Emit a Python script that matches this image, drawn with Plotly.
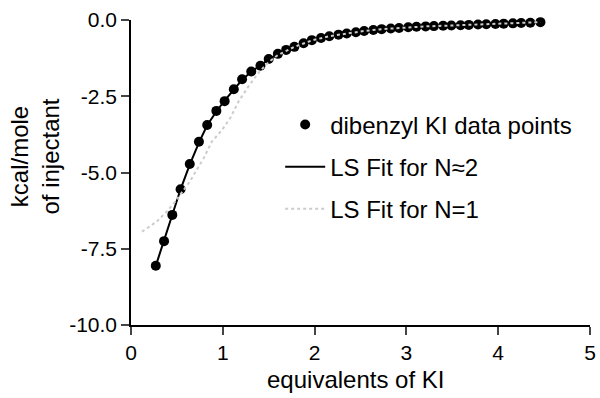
import plotly.graph_objects as go

# data points (equivalents of KI, kcal/mole of injectant)
eq_ki = [0.27, 0.36, 0.45, 0.54, 0.64, 0.74, 0.83, 0.93, 1.02, 1.12, 1.21, 1.31, 1.41, 1.50,
         1.60, 1.69, 1.78, 1.88, 1.97, 2.07, 2.16, 2.26, 2.35, 2.45, 2.54, 2.64, 2.73, 2.83,
         2.92, 3.02, 3.11, 3.21, 3.30, 3.40, 3.49, 3.59, 3.68, 3.78, 3.87, 3.97, 4.06, 4.16,
         4.25, 4.35, 4.46]
heat = [-8.06, -7.25, -6.39, -5.55, -4.72, -3.99, -3.44, -2.98, -2.66, -2.27, -1.94, -1.69,
        -1.50, -1.28, -1.11, -0.98, -0.88, -0.76, -0.66, -0.59, -0.53, -0.48, -0.44, -0.40,
        -0.36, -0.33, -0.30, -0.28, -0.26, -0.24, -0.22, -0.21, -0.20, -0.19, -0.18, -0.17,
        -0.16, -0.15, -0.14, -0.13, -0.12, -0.11, -0.10, -0.09, -0.07]

# LS fit N~2
fit2_x = [0.27, 0.36, 0.45, 0.54, 0.64, 0.74, 0.83, 0.93, 1.02, 1.12, 1.21, 1.31, 1.41, 1.50,
          1.60, 1.69, 1.78, 1.97, 2.16, 2.35, 2.54, 2.73, 2.92, 3.21, 3.49, 3.78, 4.06, 4.46]
fit2_y = [-8.06, -7.24, -6.40, -5.55, -4.74, -4.02, -3.45, -3.00, -2.64, -2.28, -1.96, -1.70,
          -1.49, -1.29, -1.12, -0.99, -0.88, -0.67, -0.53, -0.44, -0.36, -0.30, -0.26, -0.21,
          -0.18, -0.15, -0.12, -0.07]

# LS fit N=1
fit1_x = [0.12, 0.28, 0.39, 0.48, 0.64, 0.79, 0.88, 0.99, 1.08, 1.17, 1.29, 1.40, 1.50,
          1.60, 1.78, 1.97, 2.16, 2.35, 2.54, 2.73, 2.92, 3.21, 3.49, 3.78, 4.06, 4.46]
fit1_y = [-6.94, -6.61, -6.28, -5.96, -5.30, -4.54, -3.99, -3.61, -3.22, -2.68, -2.13, -1.69,
          -1.38, -1.15, -0.88, -0.67, -0.53, -0.44, -0.36, -0.30, -0.26, -0.21, -0.18, -0.15,
          -0.12, -0.07]

names = ["dibenzyl KI data points", "LS Fit for N\u22482", "LS Fit for N=1"]
y_ticks = [-10, -7.5, -5, -2.5, 0]
y_ticktext = ["-10.0", "-7.5", "-5.0", "-2.5", "0.0"]
x_ticks = [0, 1, 2, 3, 4, 5]

FONT = "Arial, Liberation Sans, Helvetica, sans-serif"

fig = go.Figure()
fig.add_trace(go.Scatter(x=fit2_x, y=fit2_y, mode="lines", name=names[1],
                         line=dict(color="black", width=2), legendrank=2,
                         legendgroup="b", cliponaxis=False))
fig.add_trace(go.Scatter(x=eq_ki, y=heat, mode="markers", name=names[0],
                         marker=dict(color="black", size=10), legendrank=1,
                         legendgroup="a", cliponaxis=False))
fig.add_trace(go.Scatter(x=fit1_x, y=fit1_y, mode="lines", name=names[2],
                         line=dict(color="#cccccc", width=2, dash="dot"), legendrank=3,
                         legendgroup="c", cliponaxis=False))

fig.update_layout(
    width=600, height=398,
    margin=dict(l=131, r=10, t=20, b=73),
    paper_bgcolor="white", plot_bgcolor="white",
    font=dict(family=FONT, color="black"),
    showlegend=True,
    legend=dict(x=0.325, y=0.73, xanchor="left", yanchor="top",
                font=dict(size=24, family=FONT), itemwidth=40,
                tracegroupgap=8, bgcolor="rgba(0,0,0,0)", traceorder="grouped"),
    xaxis=dict(range=[0, 5], tickvals=x_ticks, showline=True, linecolor="black",
               linewidth=1.5, ticks="outside", ticklen=8, tickwidth=1.5,
               showgrid=False, zeroline=False, tickfont=dict(size=21), automargin=False),
    yaxis=dict(range=[-10, 0], tickvals=y_ticks, ticktext=y_ticktext, showline=True,
               linecolor="black", linewidth=1.5, ticks="outside", ticklen=8, tickwidth=1.5,
               showgrid=False, zeroline=False, tickfont=dict(size=21), automargin=False),
    annotations=[
        dict(text="equivalents of KI", xref="paper", yref="paper", x=0.49, y=-0.18,
             xanchor="center", yanchor="middle", showarrow=False, font=dict(size=24)),
        dict(text="kcal/mole<br>of injectant", xref="paper", yref="paper", x=-0.21, y=0.551,
             xanchor="center", yanchor="middle", textangle=-90, showarrow=False,
             font=dict(size=24)),
    ],
)

fig.write_html("out.html", config={"displayModeBar": False})

# remove the default page margin so the figure sits at the window origin
with open("out.html", "r", encoding="utf-8") as f:
    html = f.read()
html = html.replace("<head>", "<head><style>html,body{margin:0;padding:0;overflow:hidden;}</style>", 1)
with open("out.html", "w", encoding="utf-8") as f:
    f.write(html)
